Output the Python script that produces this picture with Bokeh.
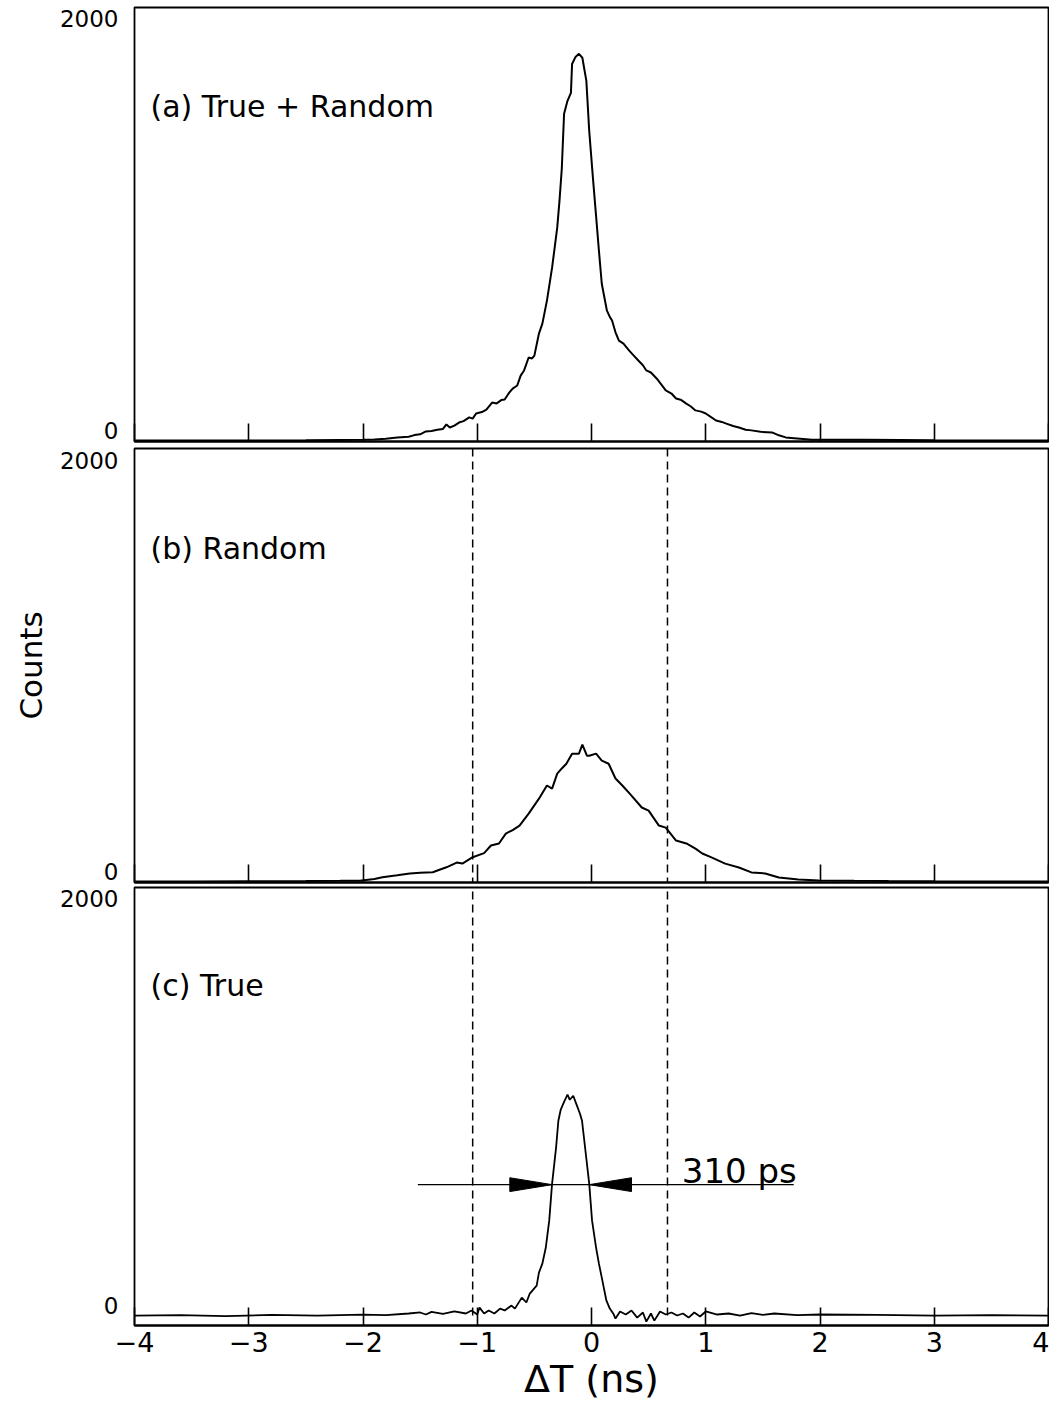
from bokeh.plotting import figure
from bokeh.layouts import column
from bokeh.models import Range1d, FixedTicker, Label, Span
from bokeh.embed import file_html
from bokeh.resources import INLINE

# ---------------- data ----------------
# (a) True + Random
t_a = [-4.0, -3.5, -3.0, -2.5, -2.2, -2.0, -1.9, -1.8, -1.7, -1.6, -1.55, -1.5, -1.45, -1.4,
       -1.35, -1.3, -1.27, -1.24, -1.2, -1.16, -1.12, -1.07, -1.04, -1.01, -0.96, -0.92, -0.87,
       -0.83, -0.79, -0.76, -0.72, -0.69, -0.65, -0.62, -0.59, -0.55, -0.52, -0.50, -0.46, -0.43,
       -0.39, -0.345, -0.30, -0.28, -0.26, -0.24, -0.21, -0.18, -0.17, -0.14, -0.11, -0.08,
       -0.045, -0.02, 0.013, 0.04, 0.065, 0.09, 0.135, 0.16, 0.18, 0.21, 0.24, 0.28, 0.33, 0.37,
       0.41, 0.45, 0.48, 0.52, 0.57, 0.61, 0.65, 0.70, 0.74, 0.78, 0.83, 0.87, 0.91, 0.96, 1.00,
       1.05, 1.09, 1.14, 1.18, 1.24, 1.29, 1.35, 1.40, 1.48, 1.58, 1.64, 1.70, 1.80, 1.93, 2.1,
       2.4, 2.7, 3.0, 3.5, 4.0]
c_a = [0, 0, 0, 1, 2, 3, 5, 8, 14, 18, 26, 30, 44, 46,
       52, 56, 78, 63, 72, 87, 94, 112, 106, 131, 138, 150, 184,
       180, 196, 199, 232, 252, 267, 315, 340, 403, 398, 412, 519, 567,
       679, 839, 1033, 1164, 1320, 1586, 1649, 1688, 1828, 1862, 1877, 1858,
       1746, 1503, 1271, 1090, 921, 761, 630, 600, 582, 525, 485, 470, 436, 412,
       388, 365, 340, 330, 301, 272, 243, 228, 204, 198, 179, 165, 146, 140, 131,
       112, 97, 90, 82, 70, 63, 52, 49, 42, 39, 25, 15, 10, 3, 4,
       3, 2, 1, 0, 0]

# (b) Random
t_b = [-4.0, -3.5, -3.0, -2.5, -2.2, -2.03, -1.9, -1.83, -1.7, -1.59, -1.5, -1.39, -1.27,
       -1.18, -1.13, -1.04, -0.94, -0.88, -0.81, -0.75, -0.69, -0.63, -0.55, -0.46, -0.39,
       -0.345, -0.30, -0.26, -0.22, -0.17, -0.11, -0.08, -0.04, -0.02, 0.04, 0.09, 0.15, 0.21,
       0.27, 0.35, 0.44, 0.50, 0.59, 0.65, 0.74, 0.83, 0.91, 0.97, 1.05, 1.17, 1.29, 1.40,
       1.52, 1.64, 1.81, 1.99, 2.3, 2.6, 3.0, 3.5, 4.0]
c_b = [0, 0, 1, 2, 3, 4, 12, 21, 30, 39, 42, 45, 69,
       92, 87, 118, 138, 175, 185, 233, 250, 272, 330, 403, 467,
       452, 525, 550, 573, 622, 622, 666, 612, 612, 622, 588, 573, 501,
       467, 418, 360, 345, 272, 262, 199, 185, 160, 136, 117, 87, 68, 44,
       39, 19, 10, 5, 3, 2, 1, 0, 0]

# (c) True
t_c = [-4.0, -3.6, -3.2, -2.8, -2.4, -2.0, -1.8, -1.6, -1.5, -1.45, -1.4, -1.3, -1.2, -1.1,
       -1.05, -1.0, -0.98, -0.94, -0.9, -0.85, -0.8, -0.76, -0.7, -0.67, -0.61, -0.57, -0.54,
       -0.48, -0.46, -0.43, -0.40, -0.37, -0.345, -0.31, -0.29, -0.27, -0.24, -0.21, -0.19,
       -0.16, -0.13, -0.10, -0.083, -0.02, 0.005, 0.04, 0.065, 0.09, 0.13, 0.16, 0.19, 0.21,
       0.25, 0.30, 0.35, 0.40, 0.45, 0.48, 0.52, 0.55, 0.60, 0.65, 0.70, 0.75, 0.80, 0.85,
       0.90, 0.95, 1.00, 1.10, 1.20, 1.30, 1.40, 1.50, 1.60, 1.80, 2.0, 2.5, 3.0, 3.5, 4.0]
c_c = [0, 2, -3, 3, 0, 4, 2, 10, 15, 5, 18, 8, 20, 10,
       25, 5, 39, 10, 25, 10, 34, 25, 49, 34, 88, 64, 108,
       147, 211, 255, 334, 466, 648, 825, 957, 1010, 1050, 1085, 1060,
       1080, 1035, 990, 957, 648, 466, 334, 255, 186, 74, 34, 10, -15,
       20, 5, 25, -10, 15, -30, 10, -25, 20, 5, 15, 0, 10, -10,
       15, -5, 20, 5, 10, 0, 12, 3, 10, 2, 5, 3, 0, 2, 0]

# annotations
cut_edges = [-1.04, 0.665]          # dashed window edges (ns)
fwhm_edges = [-0.345, -0.02]        # FWHM crossing points (ns)
fwhm_level = 643                    # counts level of the FWHM marker
fwhm_text = "310 ps"
panel_titles = ["(a) True + Random", "(b) Random", "(c) True"]

x_ticks = [-4, -3, -2, -1, 0, 1, 2, 3, 4]
x_tick_labels = ["\u22124", "\u22123", "\u22122", "\u22121", "0", "1", "2", "3", "4"]
y_ticks = [0, 2000]
y_tick_labels = ["0", "2000"]
label_lift = 48   # the original prints its count labels a little above the value

FONT = "DejaVu Sans"


def make_panel(y0, y1, fh, mbt, mbb, show_xlabels):
    p = figure(frame_width=914, frame_height=fh,
               x_range=Range1d(-4, 4), y_range=Range1d(y0, y1),
               output_backend="svg", toolbar_location=None,
               min_border_left=134, min_border_right=1,
               min_border_top=mbt, min_border_bottom=mbb)
    p.xgrid.visible = False
    p.ygrid.visible = False
    p.outline_line_color = "black"
    p.outline_line_width = 1.8
    p.outline_line_alpha = 1.0
    p.background_fill_color = "white"
    p.border_fill_color = "white"

    xa = p.xaxis[0]
    xa.ticker = FixedTicker(ticks=x_ticks)
    xa.major_label_overrides = {t: l for t, l in zip(x_ticks, x_tick_labels)}
    xa.major_tick_in = 18
    xa.major_tick_out = 0
    xa.major_tick_line_width = 1.6
    xa.major_tick_line_color = "black"
    xa.minor_tick_line_color = None
    xa.axis_line_color = "black"
    xa.axis_line_width = 1.8
    if show_xlabels:
        xa.major_label_text_font = FONT
        xa.major_label_text_font_size = "27px"
        xa.major_label_text_color = "black"
        xa.major_label_standoff = 6
    else:
        xa.major_label_text_font_size = "1px"
        xa.major_label_text_color = None
        xa.major_label_standoff = 0

    ya = p.yaxis[0]
    ya.ticker = FixedTicker(ticks=[v + label_lift for v in y_ticks])
    ya.major_label_overrides = {v + label_lift: s for v, s in zip(y_ticks, y_tick_labels)}
    ya.major_tick_line_color = None
    ya.major_tick_in = 0
    ya.major_tick_out = 0
    ya.minor_tick_line_color = None
    ya.minor_tick_out = 0
    ya.axis_line_color = None
    ya.major_label_text_font = FONT
    ya.major_label_text_font_size = "23px"
    ya.major_label_text_color = "black"
    ya.major_label_standoff = 16
    return p


p_a = make_panel(-5, 2102, 434, 7, 5, False)
p_b = make_panel(-5, 2107, 434, 2, 4, False)
p_c = make_panel(-49, 2103, 438, 1, 68, True)

p_a.line(t_a, c_a, line_color="black", line_width=2)
p_b.line(t_b, c_b, line_color="black", line_width=2)
p_c.line(t_c, c_c, line_color="black", line_width=1.8)

for p, title in zip([p_a, p_b, p_c], panel_titles):
    p.add_layout(Label(x=-3.86, y=1620, text=title, text_font=FONT,
                       text_font_size="30px", text_baseline="middle",
                       text_color="black"))

# dashed window edges
for edge in cut_edges:
    p_b.add_layout(Span(location=edge, dimension="height", line_color="black",
                        line_width=1.5, line_dash="8 5"))
    p_c.segment(x0=edge, x1=edge, y0=0, y1=p_c.y_range.end, line_color="black",
                line_width=1.5, line_dash="8 5")

# FWHM marker
head_len = 0.37
head_half = 34
left_tip, right_tip = fwhm_edges
p_c.segment(x0=-1.52, x1=1.77, y0=fwhm_level, y1=fwhm_level, line_color="black", line_width=1.2)
p_c.patches(xs=[[left_tip - head_len, left_tip, left_tip - head_len],
                [right_tip + head_len, right_tip, right_tip + head_len]],
            ys=[[fwhm_level + head_half, fwhm_level, fwhm_level - head_half],
                [fwhm_level + head_half, fwhm_level, fwhm_level - head_half]],
            fill_color="black", line_color="black", line_width=1)
p_c.add_layout(Label(x=0.79, y=fwhm_level + 66, text=fwhm_text, text_font=FONT,
                     text_font_size="34px", text_baseline="middle", text_color="black"))

# axis titles
ay = p_b.yaxis[0]
ay.axis_label = "Counts"
ay.axis_label_text_font = FONT
ay.axis_label_text_font_size = "31px"
ay.axis_label_text_font_style = "normal"
ay.axis_label_text_color = "black"
ay.axis_label_standoff = 8

ax = p_c.xaxis[0]
ax.axis_label = "\u0394T (ns)"
ax.axis_label_text_font = FONT
ax.axis_label_text_font_size = "38px"
ax.axis_label_text_font_style = "normal"
ax.axis_label_text_color = "black"
ax.axis_label_standoff = 2

layout = column(p_a, p_b, p_c, spacing=0)
open("out.html", "w").write(file_html(layout, INLINE))
